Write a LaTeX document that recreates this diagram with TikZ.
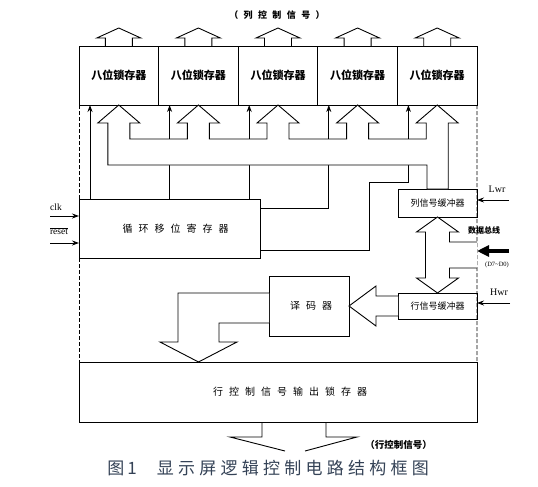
\documentclass[tikz,border=0pt]{standalone}
\usepackage{fontspec}
\setmainfont{Liberation Serif}
\newfontfamily\cjk{Noto Sans CJK SC}
\newfontfamily\cjkwide{Noto Sans CJK SC}[LetterSpace=60]
\newfontfamily\cjkcap{Noto Sans CJK SC}[LetterSpace=25]
\usetikzlibrary{positioning}
\usetikzlibrary{arrows.meta}
\definecolor{capcol}{RGB}{52,66,86}
\tikzset{box/.style = {draw, fill=white, inner sep=0, outer sep=0}}
\tikzset{latch/.style = {box, minimum width=79.6pt, minimum height=59pt, font=\cjk\bfseries\fontsize{11}{13}\selectfont}}
\tikzset{hollow/.style = {fill=white, line join=miter}}
\tikzset{sig/.style = {-{Stealth[length=7pt,width=5pt]}}}
\tikzset{lbl/.style = {inner sep=0, font=\fontsize{9.5}{11}\selectfont}}

\begin{document}
\begin{tikzpicture}[x=1pt, y=-1pt, line width=0.9pt]
  \useasboundingbox (0,0) rectangle (538,487);

  % latches in a row
  \node[latch] (L1) at (118.8,75.5) {八位锁存器};
  \node[latch, right=0pt of L1] (L2) {八位锁存器};
  \node[latch, right=0pt of L2] (L3) {八位锁存器};
  \node[latch, right=0pt of L3] (L4) {八位锁存器};
  \node[latch, right=0pt of L4] (L5) {八位锁存器};

  \node[box, minimum width=181pt, minimum height=59pt, font=\cjkwide\fontsize{10}{12}\selectfont] (shift) at (169.5,228.5) {\hspace*{12pt}循环移位寄存器};
  \node[box, minimum width=79pt, minimum height=28pt, font=\cjk\fontsize{9}{11}\selectfont] (colbuf) at (437.5,203) {列信号缓冲器};
  \node[box, minimum width=79pt, minimum height=26pt, font=\cjk\fontsize{9}{11}\selectfont] (rowbuf) at (437.5,306) {行信号缓冲器};
  \node[box, minimum width=80pt, minimum height=60pt, font=\cjkwide\fontsize{10}{12}\selectfont] (dec) at (309,306) {\hspace*{4pt}译码器};
  \node[box, minimum width=398pt, minimum height=60pt, font=\cjkwide\fontsize{10}{12}\selectfont] (outlatch) at (278,392) {\hspace*{24pt}行控制信号输出锁存器};

  % dashed border
  \draw[dash pattern=on 4pt off 2pt, line width=0.7pt] (L1.south west) -- (shift.north west);
  \draw[dash pattern=on 4pt off 2pt, line width=0.7pt] (shift.south west) -- (outlatch.north west);
  \draw[dash pattern=on 4pt off 2pt, line width=0.7pt] (L5.south east) -- (outlatch.north east);

  % column outputs
  \draw[hollow] ([xshift=-13.5pt]L1.north) -- ++(0,-8) -- ++(-8.5,0) -- ++(22,-10) -- ++(22,10) -- ++(-8.5,0) -- ++(0,8);
  \draw[hollow] ([xshift=-13.5pt]L2.north) -- ++(0,-8) -- ++(-8.5,0) -- ++(22,-10) -- ++(22,10) -- ++(-8.5,0) -- ++(0,8);
  \draw[hollow] ([xshift=-13.5pt]L3.north) -- ++(0,-8) -- ++(-8.5,0) -- ++(22,-10) -- ++(22,10) -- ++(-8.5,0) -- ++(0,8);
  \draw[hollow] ([xshift=-13.5pt]L4.north) -- ++(0,-8) -- ++(-8.5,0) -- ++(22,-10) -- ++(22,10) -- ++(-8.5,0) -- ++(0,8);
  \draw[hollow] ([xshift=-13.5pt]L5.north) -- ++(0,-8) -- ++(-8.5,0) -- ++(22,-10) -- ++(22,10) -- ++(-8.5,0) -- ++(0,8);
  \node[font=\cjkwide\bfseries\fontsize{9}{11}\selectfont] (colsig) at (277,15) {（列控制信号）};

  % latch enables from the shift register
  \coordinate (t1) at ([xshift=11pt]L1.south west);
  \coordinate (t2) at ([xshift=11pt]L2.south west);
  \coordinate (t3) at ([xshift=11pt]L3.south west);
  \coordinate (t4) at ([xshift=11pt]L4.south west);
  \coordinate (t5) at ([xshift=11pt]L5.south west);
  \draw[sig] (t1 |- shift.north) -- (t1);
  \draw[sig] (t2 |- shift.north) -- (t2);
  \draw[sig] (t3 |- shift.north) -- (t3);
  \draw[sig] (shift.east |- 0,208) -- (t4 |- 0,208) -- (t4);
  \draw[sig] (shift.east |- 0,250) -- (369,250) -- (369,182) -- (t5 |- 0,182) -- (t5);

  % column data bus
  \draw[hollow] (107.8,165) -- (107.8,123) -- (97.8,123) -- (L1.south) -- (139.8,123) -- (129.8,123) -- (129.8,139)
    -- (187.4,139) -- (187.4,123) -- (177.4,123) -- (L2.south) -- (219.4,123) -- (209.4,123) -- (209.4,139)
    -- (267,139) -- (267,123) -- (257,123) -- (L3.south) -- (299,123) -- (289,123) -- (289,139)
    -- (346.6,139) -- (346.6,123) -- (336.6,123) -- (L4.south) -- (378.6,123) -- (368.6,123) -- (368.6,139)
    -- (426.2,139) -- (426.2,123) -- (416.2,123) -- (L5.south) -- (458.2,123) -- (448.2,123) -- (colbuf.north -| 448.2,0)
    -- (colbuf.north -| 427,0) -- (427,165) -- cycle;

  % inputs at the left
  \coordinate (clkin) at (50,216);
  \coordinate (rstin) at (50,243);
  \node[lbl] (clk) at (56,207) {clk};
  \node[lbl] (rst) at (59,231) {$\overline{\mbox{reset}}$};
  \draw[sig] (clkin) -- (clkin -| shift.west);
  \draw[sig] (rstin) -- (rstin -| shift.west);

  % inputs at the right
  \coordinate (lwrin) at (509,200);
  \coordinate (hwrin) at (510,303);
  \coordinate (din) at (509,251);
  \node[lbl, font=\fontsize{10}{12}\selectfont] (lwr) at (497,189) {Lwr};
  \node[lbl, font=\fontsize{10}{12}\selectfont] (hwr) at (499,292) {Hwr};
  \node[lbl, font=\cjk\bfseries\fontsize{8}{10}\selectfont] (bus) at (484,230) {数据总线};
  \node[lbl, font=\fontsize{6.5}{8}\selectfont] (dd) at (497,265) {(D7\textasciitilde D0)};
  \draw[sig] (lwrin) -- (lwrin -| colbuf.east);
  \draw[sig] (hwrin) -- (hwrin -| rowbuf.east);
  \draw[line width=3.5pt, -{Triangle[length=12pt,width=11pt]}] (din) -- (din -| colbuf.east);

  % data bus between the buffers
  \draw[hollow] (477,242) -- (449.5,242) -- (449.5,232) -- (458.5,232) -- (colbuf.south) -- (416.5,232) -- (425.5,232)
    -- (425.5,278) -- (416.5,278) -- (rowbuf.north) -- (458.5,278) -- (449.5,278) -- (449.5,268) -- (477,268);

  % row buffer to decoder
  \draw[hollow] ([yshift=10pt]rowbuf.west) -- (376,296) -- (376,286) -- (dec.east) -- (376,326) -- (376,316) -- ([yshift=-10pt]rowbuf.west);

  % decoder to row latch
  \draw[hollow] ([yshift=13pt]dec.west) -- (178,293) -- (178,342) -- (160,342) -- (198.5,362) -- (237,342) -- (219,342) -- (219,323) -- ([yshift=-17pt]dec.west);

  % row outputs
  \draw (outlatch.south -| 262,0) -- (262,437) -- (230,437) -- (285,451);
  \draw (outlatch.south -| 326,0) -- (326,437) -- (357,437) -- (305,451);
  \node[lbl, anchor=west, font=\cjk\bfseries\fontsize{9.5}{11}\selectfont] (rowsig) at (365,445) {（行控制信号）};

  \node[inner sep=0, anchor=west, text=capcol, font=\cjkcap\fontsize{17}{19}\selectfont] (cap) at (107,468) {图\hspace{3pt}1\hspace{20pt}显示屏逻辑控制电路结构框图};
\end{tikzpicture}
\end{document}
